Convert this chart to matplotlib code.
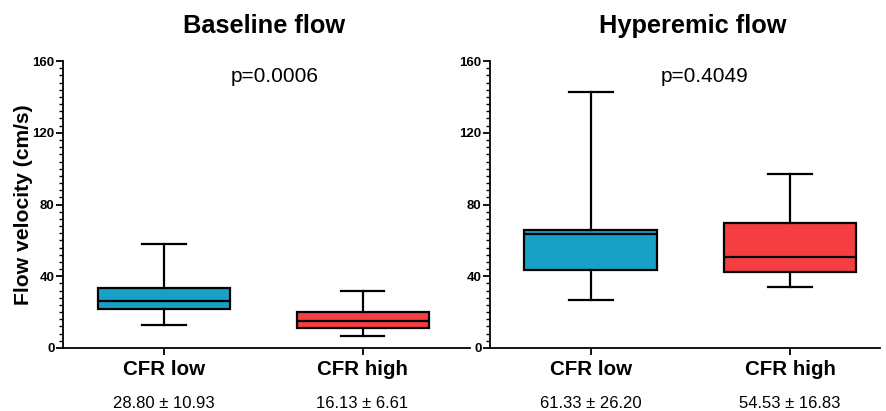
import matplotlib.pyplot as plt
from matplotlib.ticker import MultipleLocator

plt.rcParams['font.family'] = ['Liberation Sans', 'DejaVu Sans']

groups = ['CFR low', 'CFR high']
colors = ['#18a0c6', '#f43e42']

# whisker low, q1, median, q3, whisker high (cm/s)
baseline = [[12.8, 21.7, 26.2, 33.4, 58.0],
            [6.9, 11.0, 15.2, 20.2, 32.0]]
hyperemic = [[26.8, 43.6, 63.5, 65.8, 142.9],
             [33.8, 42.5, 50.5, 69.5, 96.8]]
baseline_msd = ['28.80 \u00b1 10.93', '16.13 \u00b1 6.61']
hyperemic_msd = ['61.33 \u00b1 26.20', '54.53 \u00b1 16.83']
pvals = ['p=0.0006', 'p=0.4049']
titles = ['Baseline flow', 'Hyperemic flow']

fig = plt.figure(figsize=(8.86, 4.11), dpi=100)
ax1 = fig.add_axes([0.0711, 0.1533, 0.459, 0.698])
ax2 = fig.add_axes([0.553, 0.1533, 0.440, 0.698])

panels = [(ax1, baseline, baseline_msd, (0.49, 2.54)),
          (ax2, hyperemic, hyperemic_msd, (0.495, 2.45))]

for i, (ax, data, msd, xl) in enumerate(panels):
    stats = []
    for g, d in zip(groups, data):
        stats.append({'whislo': d[0], 'q1': d[1], 'med': d[2], 'q3': d[3],
                      'whishi': d[4], 'label': g, 'fliers': []})
    bp = ax.bxp(stats, positions=[1, 2], widths=0.665, patch_artist=True,
                showfliers=False,
                boxprops=dict(linewidth=1.6, edgecolor='black'),
                medianprops=dict(color='black', linewidth=1.6),
                whiskerprops=dict(color='black', linewidth=1.6),
                capprops=dict(color='black', linewidth=1.6), capwidths=0.22)
    for patch, c in zip(bp['boxes'], colors):
        patch.set_facecolor(c)

    ax.set_ylim(0, 160)
    ax.set_xlim(*xl)
    ax.yaxis.set_major_locator(MultipleLocator(40))
    ax.yaxis.set_minor_locator(MultipleLocator(4))
    ax.spines['top'].set_visible(False)
    ax.spines['right'].set_visible(False)
    for s in ['left', 'bottom']:
        ax.spines[s].set_linewidth(1.3)
    ax.tick_params(axis='y', which='major', length=5, width=1.3,
                   labelsize=9.5, pad=1)
    ax.tick_params(axis='y', which='minor', length=3, width=1.0)
    ax.tick_params(axis='x', length=5, width=1.3, labelsize=14.8, pad=4)
    for lab in ax.get_yticklabels() + ax.get_xticklabels():
        lab.set_fontweight('bold')

    ax.text(0.52 if i == 0 else 0.55, 0.945, pvals[i], transform=ax.transAxes,
            ha='center', va='center', fontsize=15)
    for x, t in zip([1, 2], msd):
        ax.text(x, -0.195, t, transform=ax.get_xaxis_transform(),
                ha='center', va='center', fontsize=12)

    cx = (ax.get_position().x0 + ax.get_position().x1) / 2
    fig.text(cx - (0.002 if i == 0 else -0.009), 0.937, titles[i],
             ha='center', va='center', fontsize=18.3, fontweight='bold')

ax1.set_ylabel('Flow velocity (cm/s)', fontsize=15.2, fontweight='bold',
               labelpad=0)

fig.savefig('out.png', dpi=100)
